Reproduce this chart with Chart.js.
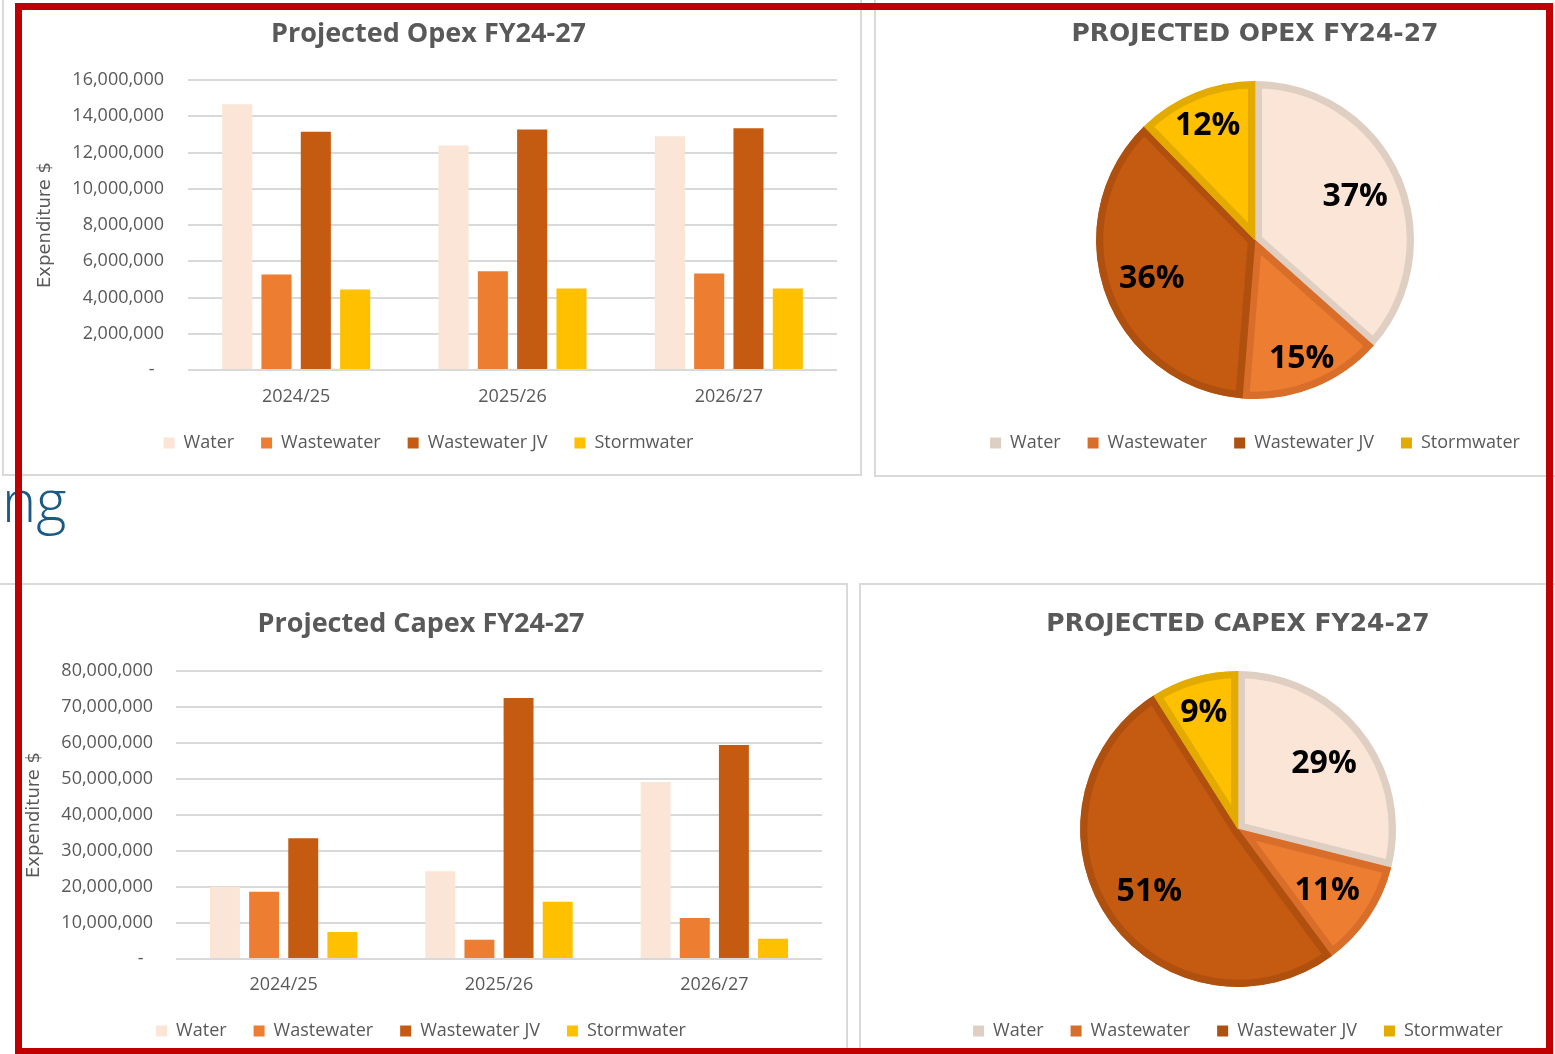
<!DOCTYPE html>
<html><head><meta charset="utf-8">
<script src="https://cdn.jsdelivr.net/npm/chart.js@4.4.1/dist/chart.umd.min.js"></script>
<style>
html,body{margin:0;padding:0;background:#fff;width:1555px;height:1054px;overflow:hidden;position:relative;}
.panel{position:absolute;border:2px solid #d9d9d9;box-sizing:border-box;background:#fff;}
.cv{position:absolute;}
#ng{position:absolute;left:2px;top:471px;font-family:'Open Sans';font-weight:300;font-size:58px;line-height:58px;color:#1b5a84;}
#frame{position:absolute;left:15px;top:3px;width:1538px;height:1052px;border:7px solid #c00000;box-sizing:border-box;}
</style></head><body>
<div class="panel" style="left:2px;top:-4px;width:860px;height:480px"></div>
<div class="panel" style="left:874px;top:-4px;width:700px;height:481px"></div>
<div class="panel" style="left:-4px;top:583px;width:852px;height:500px"></div>
<div class="panel" style="left:859px;top:583px;width:720px;height:500px"></div>
<div id="ng">ng</div>
<div class="cv" style="left:20px;top:10px;width:840px;height:465px"><canvas id="opexBar"></canvas></div>
<div class="cv" style="left:880px;top:10px;width:667px;height:465px"><canvas id="opexPie"></canvas></div>
<div class="cv" style="left:20px;top:594px;width:825px;height:470px"><canvas id="capexBar"></canvas></div>
<div class="cv" style="left:862px;top:594px;width:685px;height:470px"><canvas id="capexPie"></canvas></div>
<div id="frame"></div>
<script>
// ---- data ----
const categories = ['2024/25', '2025/26', '2026/27'];
const seriesNames = ['Water', 'Wastewater', 'Wastewater JV', 'Stormwater'];

const opexWater        = [14660000, 12390000, 12900000];
const opexWastewater   = [5270000, 5450000, 5320000];
const opexWastewaterJV = [13140000, 13270000, 13340000];
const opexStormwater   = [4440000, 4500000, 4500000];

const capexWater        = [20060000, 24400000, 49200000];
const capexWastewater   = [18670000, 5360000, 11370000];
const capexWastewaterJV = [33570000, 72500000, 59460000];
const capexStormwater   = [7490000, 15900000, 5630000];

const opexYMax = 16000000, opexYStep = 2000000;
const capexYMax = 80000000, capexYStep = 10000000;

const opexTitle = 'Projected Opex FY24-27';
const opexPieTitle = 'PROJECTED OPEX FY24-27';
const capexTitle = 'Projected Capex FY24-27';
const capexPieTitle = 'PROJECTED CAPEX FY24-27';
const yAxisTitle = 'Expenditure $';

// ---- styles ----
const barColors = ['#fbe5d6', '#ed7d31', '#c55a11', '#ffc000'];
const pieBorderColors = ['#dfcfc2', '#d96d2a', '#b0500f', '#e3ab00'];
const grey = '#595959';
// label distance from centre as a fraction of the radius (Excel "best fit" placement)
const opexLabelRadius = [0.69, 0.79, 0.69, 0.79];
const capexLabelRadius = [0.69, 0.68, 0.68, 0.78];

const sum = a => a.reduce((s, v) => s + v, 0);
const opexSeries = [opexWater, opexWastewater, opexWastewaterJV, opexStormwater];
const capexSeries = [capexWater, capexWastewater, capexWastewaterJV, capexStormwater];
const opexTotals = opexSeries.map(sum);
const capexTotals = capexSeries.map(sum);

const fmt = v => v === 0 ? '-  ' : Number(v).toLocaleString('en-US');

function barChart(id, data, o) {
  return new Chart(document.getElementById(id), {
    type: 'bar',
    data: {
      labels: categories,
      datasets: seriesNames.map((n, i) => ({
        label: n, data: data[i], backgroundColor: barColors[i], borderWidth: 0,
        categoryPercentage: 0.727, barPercentage: 0.765
      }))
    },
    options: {
      responsive: true, maintainAspectRatio: false, animation: false, events: [],
      layout: { padding: { left: 0, right: o.padRight, top: 0, bottom: o.padBottom } },
      plugins: {
        title: { display: true, text: o.title, color: grey,
          font: { family: 'Open Sans', size: 27, weight: 'bold' },
          padding: { top: o.tTop, bottom: o.tBottom } },
        legend: { position: 'bottom',
          labels: { boxWidth: 11, boxHeight: 11, padding: 27, color: grey,
            font: { family: 'Open Sans', size: 18 } } },
        tooltip: { enabled: false }
      },
      scales: {
        x: {
          grid: { display: false, drawTicks: false }, border: { display: false },
          ticks: { color: grey, font: { family: 'Open Sans', size: 18 }, padding: o.xPad },
          afterFit: s => { s.height = o.xH; }
        },
        y: {
          min: 0, max: o.max,
          ticks: { stepSize: o.step, color: grey, font: { family: 'Open Sans', size: 18 },
            padding: o.yPad, callback: v => fmt(v) },
          grid: { color: '#d9d9d9', lineWidth: 2, drawTicks: false },
          border: { display: false },
          title: { display: true, text: yAxisTitle, color: grey,
            font: { family: 'DejaVu Sans', size: 18 }, padding: { top: o.ytPad, bottom: 0 } },
          afterFit: s => { s.width = o.yW; }
        }
      }
    }
  });
}

const pctLabels = {
  id: 'pctLabels',
  afterDatasetsDraw(chart, args, opts) {
    const ds = chart.data.datasets[0];
    const total = sum(ds.data);
    const meta = chart.getDatasetMeta(0);
    const ctx = chart.ctx;
    ctx.save();
    ctx.font = 'bold 32px "Open Sans"';
    ctx.fillStyle = '#000';
    ctx.textAlign = 'center';
    ctx.textBaseline = 'middle';
    meta.data.forEach((arc, i) => {
      const p = ds.data[i] / total;
      const { x, y, startAngle, endAngle, outerRadius } =
        arc.getProps(['x', 'y', 'startAngle', 'endAngle', 'outerRadius'], true);
      const mid = (startAngle + endAngle) / 2;
      const r = outerRadius * opts.radii[i];
      ctx.fillText(Math.round(p * 100) + '%', x + Math.cos(mid) * r, y + Math.sin(mid) * r + 2);
    });
    ctx.restore();
  }
};

function pieChart(id, values, o) {
  return new Chart(document.getElementById(id), {
    type: 'pie',
    data: {
      labels: seriesNames,
      datasets: [{ data: values, backgroundColor: barColors, borderColor: pieBorderColors,
        borderWidth: 7, borderAlign: 'inner', radius: o.r }]
    },
    options: {
      responsive: true, maintainAspectRatio: false, animation: false, events: [],
      layout: { padding: { left: o.padLeft, right: 0, top: 0, bottom: o.padBottom } },
      plugins: {
        title: { display: true, text: o.title, color: grey,
          font: { family: 'DejaVu Sans', size: 25, weight: 'bold' },
          padding: { top: o.tTop, bottom: o.tBottom } },
        legend: { position: 'bottom',
          labels: { boxWidth: 11, boxHeight: 11, padding: 27, color: grey,
            font: { family: 'Open Sans', size: 18 },
            generateLabels: chart => Chart.overrides.pie.plugins.legend.labels.generateLabels(chart)
              .map((it, i) => Object.assign({}, it, { fillStyle: pieBorderColors[i], strokeStyle: pieBorderColors[i], lineWidth: 0 })) } },
        tooltip: { enabled: false },
        pctLabels: { radii: o.labelRadius }
      }
    },
    plugins: [pctLabels]
  });
}

barChart('opexBar', opexSeries, { title: opexTitle, max: opexYMax, step: opexYStep,
  padRight: 23, padBottom: 13, tTop: 7.8, tBottom: 29.8, xPad: 16.2, xH: 37, yPad: 24, ytPad: 14.2, yW: 168 });
barChart('capexBar', capexSeries, { title: capexTitle, max: capexYMax, step: capexYStep,
  padRight: 23, padBottom: 14, tTop: 13.8, tBottom: 30.8, xPad: 15.2, xH: 36, yPad: 23, ytPad: 3.2, yW: 156 });
pieChart('opexPie', opexTotals, { title: opexPieTitle, r: 159, padLeft: 83, padBottom: 13, tTop: 9, tBottom: 24, labelRadius: opexLabelRadius });
pieChart('capexPie', capexTotals, { title: capexPieTitle, r: 158, padLeft: 67, padBottom: 14, tTop: 15, tBottom: 24, labelRadius: capexLabelRadius });
</script>
</body></html>
